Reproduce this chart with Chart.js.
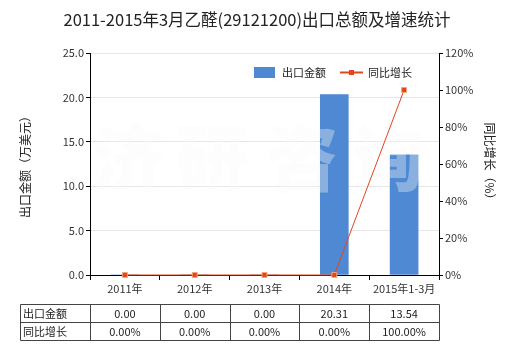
<!DOCTYPE html>
<html>
<head>
<meta charset="utf-8">
<script src="https://cdn.jsdelivr.net/npm/chart.js@4"></script>
<style>
  html, body { margin: 0; padding: 0; background: #fff; }
  #wrap { width: 520px; height: 350px; }
</style>
</head>
<body>
<div id="wrap"><canvas id="exportChart" width="520" height="350"></canvas></div>
<script>
// Data
const categories = ["2011年", "2012年", "2013年", "2014年", "2015年1-3月"];
const exportValues = [0, 0, 0, 20.31, 13.54];          // 出口金额 (万美元)
const growthValues = [0, 0, 0, 0, 100];                // 同比增长 (%)
const exportLabels = ["0.00", "0.00", "0.00", "20.31", "13.54"];
const growthLabels = ["0.00%", "0.00%", "0.00%", "0.00%", "100.00%"];
const seriesNames = ["出口金额", "同比增长"];
const chartTitle = "2011-2015年3月乙醛(29121200)出口总额及增速统计";
const watermark = ["济", "研", "咨", "询"];

const FONT = "'Noto Sans CJK SC', 'Noto Sans', sans-serif";
const BAR_COLOR = "#4f89d3";
const LINE_COLOR = "#e2461a";

/* Title, watermark, legend and data table */
const extrasPlugin = {
    id: "extras",
    afterDatasetDraw(chart, args) {
        // faint watermark, drawn over the bars but under the line
        if (chart.data.datasets[args.index].type !== "bar") return;
        const ctx = chart.ctx;
        ctx.save();
        ctx.font = "900 72px " + FONT;
        ctx.fillStyle = "rgba(250,250,250,0.35)";
        ctx.textAlign = "center";
        ctx.textBaseline = "middle";
        const xs = [128, 212, 302, 388];
        watermark.forEach((ch, i) => ctx.fillText(ch, xs[i], 158));
        ctx.restore();
    },
    afterDraw(chart) {
        const ctx = chart.ctx;
        const x = chart.scales.x;
        ctx.save();

        // Title
        ctx.font = "16.5px " + FONT;
        ctx.fillStyle = "#222";
        ctx.textAlign = "center";
        ctx.textBaseline = "middle";
        ctx.fillText(chartTitle, 257, 20);

        // Legend
        ctx.font = "11px " + FONT;
        ctx.textAlign = "left";
        ctx.fillStyle = BAR_COLOR;
        ctx.fillRect(254, 67, 21, 11);
        ctx.fillStyle = "#222";
        ctx.fillText(seriesNames[0], 282, 73);
        ctx.strokeStyle = LINE_COLOR;
        ctx.lineWidth = 2;
        ctx.beginPath();
        ctx.moveTo(340, 72.5);
        ctx.lineTo(363, 72.5);
        ctx.stroke();
        ctx.fillStyle = LINE_COLOR;
        ctx.fillRect(349, 70, 5, 5);
        ctx.fillStyle = "#222";
        ctx.fillText(seriesNames[1], 368, 73);

        // Data table
        const half = (x.getPixelForValue(1) - x.getPixelForValue(0)) / 2;
        const cols = [20.5];
        for (let i = 0; i < categories.length; i++) {
            cols.push(Math.round(x.getPixelForValue(i) - half) + 0.5);
        }
        cols.push(Math.round(x.getPixelForValue(categories.length - 1) + half) + 0.5);
        const rows = [304.5, 322.5, 340.5];
        ctx.strokeStyle = "#444";
        ctx.lineWidth = 1;
        ctx.beginPath();
        rows.forEach(r => { ctx.moveTo(cols[0], r); ctx.lineTo(cols[cols.length - 1], r); });
        cols.forEach(c => { ctx.moveTo(c, rows[0]); ctx.lineTo(c, rows[rows.length - 1]); });
        ctx.stroke();

        ctx.font = "11px " + FONT;
        ctx.fillStyle = "#222";
        ctx.textBaseline = "middle";
        ctx.textAlign = "left";
        ctx.fillText(seriesNames[0], 23, 313.5);
        ctx.fillText(seriesNames[1], 23, 331.5);
        ctx.textAlign = "center";
        for (let i = 0; i < categories.length; i++) {
            const cx = x.getPixelForValue(i);
            ctx.fillText(exportLabels[i], cx, 314);
            ctx.fillText(growthLabels[i], cx, 332);
        }
        ctx.restore();
    }
};

const context = document.getElementById("exportChart").getContext("2d");
new Chart(context, {
    data: {
        labels: categories,
        datasets: [
            {
                type: "line",
                label: seriesNames[1],
                data: growthValues,
                yAxisID: "y1",
                borderColor: LINE_COLOR,
                borderWidth: 1,
                pointStyle: "rect",
                pointRadius: 3.5,
                pointBackgroundColor: LINE_COLOR,
                pointBorderColor: "#f3a27a",
                pointBorderWidth: 1,
                clip: false,
                order: 0
            },
            {
                type: "bar",
                label: seriesNames[0],
                data: exportValues,
                yAxisID: "y",
                backgroundColor: BAR_COLOR,
                barThickness: 28,
                order: 1
            }
        ]
    },
    options: {
        responsive: false,
        animation: false,
        layout: { padding: { top: 53, left: 0, right: 0, bottom: 0 } },
        plugins: {
            legend: { display: false },
            title: { display: false },
            tooltip: { enabled: false }
        },
        scales: {
            x: {
                offset: true,
                grid: { drawOnChartArea: false, tickLength: 5, tickColor: "#000" },
                border: { color: "#000" },
                ticks: { font: { size: 11, family: FONT }, color: "#333", padding: 2 },
                afterFit(scale) { scale.height = 75; }
            },
            y: {
                position: "left",
                min: 0,
                max: 25,
                ticks: {
                    stepSize: 5,
                    font: { size: 11, family: FONT },
                    color: "#333",
                    padding: 2,
                    callback: v => v.toFixed(1)
                },
                grid: { color: "#e6e6e6", tickColor: "#000", tickLength: 4 },
                border: { color: "#000" },
                title: {
                    display: true,
                    text: "出口金额（万美元）",
                    font: { size: 12, family: FONT },
                    color: "#222",
                    padding: { top: 18, bottom: 0 }
                },
                afterFit(scale) { scale.width = 90; }
            },
            y1: {
                position: "right",
                min: 0,
                max: 120,
                ticks: {
                    stepSize: 20,
                    font: { size: 11, family: FONT },
                    color: "#333",
                    padding: 2,
                    callback: v => v + "%"
                },
                grid: { drawOnChartArea: false, tickColor: "#000", tickLength: 4 },
                border: { color: "#000" },
                title: {
                    display: true,
                    text: "同比增长（%）",
                    font: { size: 12, family: FONT },
                    color: "#222",
                    padding: { top: 23, bottom: 0 }
                },
                afterFit(scale) { scale.width = 81; }
            }
        }
    },
    plugins: [extrasPlugin]
});
</script>
</body>
</html>
